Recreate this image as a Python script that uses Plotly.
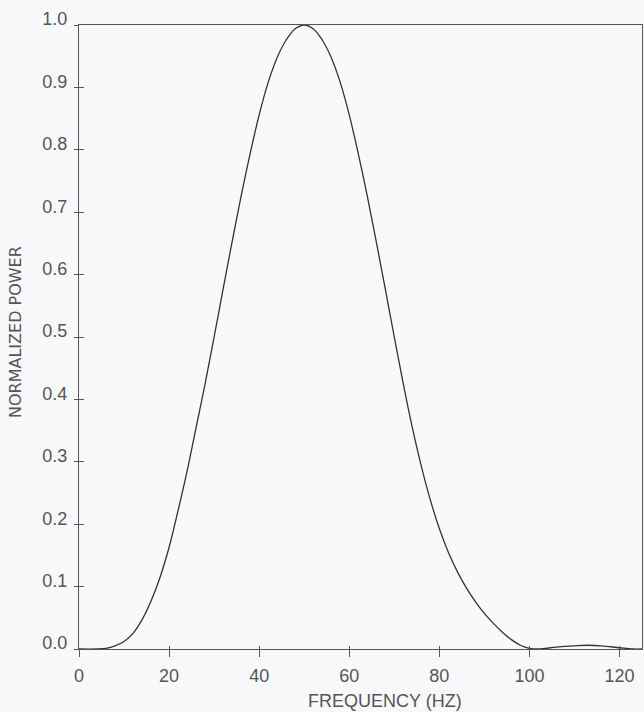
import plotly.graph_objects as go

# Frequency (Hz) and normalized power
freq = [0, 4, 6, 8, 10, 12, 14, 16, 18, 20, 22, 24, 26, 28, 30, 32, 34, 36, 38, 40,
        42, 44, 46, 48, 50, 52, 54, 56, 58, 60, 62, 64, 66, 68, 70, 72, 74, 76, 78, 80,
        82, 84, 86, 88, 90, 92, 94, 96, 98, 100, 102, 106, 110, 113, 116, 120, 123, 125]
power = [0.0, 0.0, 0.001, 0.005, 0.012, 0.025, 0.047, 0.077, 0.115, 0.163, 0.222, 0.285,
         0.355, 0.425, 0.5, 0.577, 0.653, 0.726, 0.794, 0.856,
         0.908, 0.948, 0.976, 0.994, 1.0, 0.994, 0.976, 0.948, 0.908, 0.856, 0.794, 0.726,
         0.653, 0.577, 0.5, 0.425, 0.355, 0.293, 0.239, 0.193,
         0.155, 0.124, 0.098, 0.076, 0.057, 0.041, 0.027, 0.015, 0.006, 0.001, 0.0,
         0.003, 0.005, 0.006, 0.005, 0.002, 0.0, 0.0]

x_ticks = [0, 20, 40, 60, 80, 100, 120]
x_labels = ["0", "20", "40", "60", "80", "100", "120"]
y_ticks = [0.0, 0.1, 0.2, 0.3, 0.4, 0.5, 0.6, 0.7, 0.8, 0.9, 1.0]
y_labels = ["0.0", "0.1", "0.2", "0.3", "0.4", "0.5", "0.6", "0.7", "0.8", "0.9", "1.0"]

x_title = "FREQUENCY (HZ)"
y_title = "NORMALIZED POWER"

INK = "#333333"
AX = "#555555"
FONT = "Liberation Sans"
BG = "#f9f9fb"

fig = go.Figure()
fig.add_trace(go.Scatter(x=freq, y=power, mode="lines",
                         line=dict(color=INK, width=1.3, shape="spline", smoothing=1.0),
                         hoverinfo="skip", showlegend=False))
# invisible trace on overlay axes so they render
fig.add_trace(go.Scatter(x=[0], y=[0], xaxis="x2", yaxis="y2", mode="markers",
                         marker=dict(opacity=0), showlegend=False, hoverinfo="skip"))

fig.update_layout(
    width=644, height=712,
    margin=dict(l=79, r=2, t=25, b=63),
    paper_bgcolor=BG, plot_bgcolor=BG,
    xaxis=dict(range=[0, 125], tickvals=x_ticks, ticktext=x_labels,
               showgrid=False, zeroline=False, showline=True, mirror=True,
               linecolor=AX, linewidth=1.3, ticks="outside", ticklen=7,
               tickcolor=AX, tickwidth=1.3, ticklabelstandoff=3,
               tickfont=dict(family=FONT, size=18, color=AX)),
    yaxis=dict(range=[0, 1.0], tickvals=y_ticks, ticktext=y_labels,
               showgrid=False, zeroline=False, showline=True, mirror=True,
               linecolor=AX, linewidth=1.3, ticks="outside", ticklen=4,
               tickcolor=AX, tickwidth=1.3, ticklabelstandoff=3, ticklabelshift=-6,
               tickfont=dict(family=FONT, size=18, color=AX)),
    xaxis2=dict(range=[0, 125], overlaying="x", anchor="y", tickvals=x_ticks,
                showticklabels=False, showgrid=False, zeroline=False,
                ticks="inside", ticklen=3, tickcolor=AX, tickwidth=1.3),
    yaxis2=dict(range=[0, 1.0], overlaying="y", anchor="x", tickvals=y_ticks,
                showticklabels=False, showgrid=False, zeroline=False,
                ticks="inside", ticklen=5, tickcolor=AX, tickwidth=1.3),
    annotations=[
        dict(text=x_title, xref="paper", yref="paper", x=(385 - 79) / 563, y=-(701 - 649) / 624,
             showarrow=False, xanchor="center", yanchor="middle",
             font=dict(family=FONT, size=18, color=AX)),
        dict(text=y_title, xref="paper", yref="paper", x=-(79 - 15) / 563, y=(649 - 332) / 624,
             showarrow=False, xanchor="center", yanchor="middle", textangle=-90,
             font=dict(family="DejaVu Sans", size=16, color=AX)),
    ],
)

fig.write_html("out.html", post_script="document.body.style.margin='0';",
               config={"displayModeBar": False})
